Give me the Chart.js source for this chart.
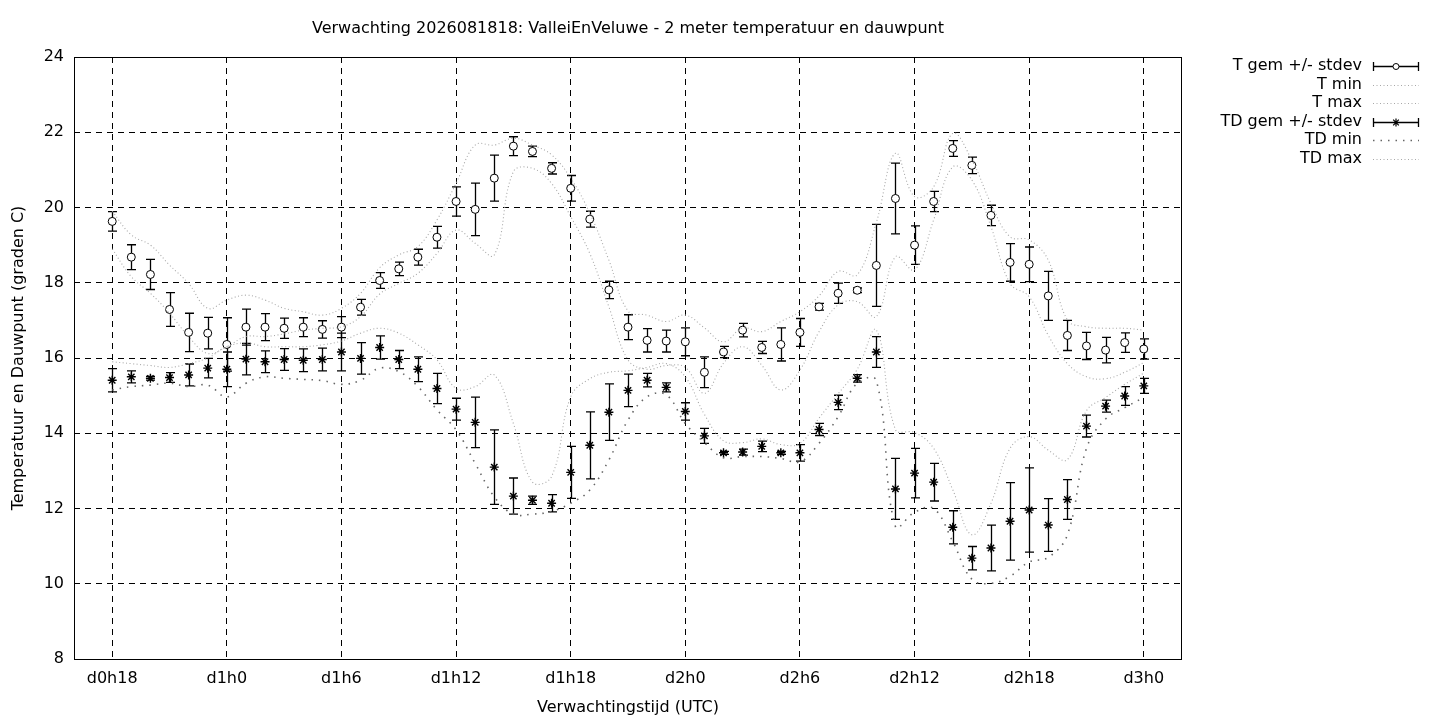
<!DOCTYPE html>
<html>
<head>
<meta charset="utf-8">
<script src="https://cdn.jsdelivr.net/npm/chart.js@4.4.1/dist/chart.umd.min.js"></script>
<style>
  html, body { margin: 0; padding: 0; background: #fff; }
  #wrap { width: 1440px; height: 720px; position: relative; }
  canvas { display: block; }
</style>
</head>
<body>
<div id="wrap"><canvas id="c" width="1440" height="720"></canvas></div>
<script>
// ---------- data ----------
const chartTitle = 'Verwachting 2026081818: ValleiEnVeluwe - 2 meter temperatuur en dauwpunt';
const xAxisTitle = 'Verwachtingstijd (UTC)';
const yAxisTitle = 'Temperatuur en Dauwpunt (graden C)';

const hours = [18,19,20,21,22,23,24,25,26,27,28,29,30,31,32,33,34,35,36,37,38,39,40,41,42,43,44,45,
  46,47,48,49,50,51,52,53,54,55,56,57,58,59,60,61,62,63,64,65,66,67,68,69,70,71,72];

const xTickHours  = [18, 24, 30, 36, 42, 48, 54, 60, 66, 72];
const xTickLabels = ['d0h18','d1h0','d1h6','d1h12','d1h18','d2h0','d2h6','d2h12','d2h18','d3h0'];
const yTicks = [8, 10, 12, 14, 16, 18, 20, 22, 24];

const tMean = [19.63,18.68,18.22,17.29,16.68,16.66,16.36,16.82,16.82,16.79,16.82,16.76,16.82,17.35,
  18.06,18.37,18.68,19.21,20.16,19.95,20.78,21.63,21.49,21.04,20.51,19.69,17.81,16.82,
  16.47,16.45,16.43,15.62,16.16,16.74,16.28,16.36,16.68,17.36,17.72,17.80,18.46,20.24,19.00,20.16,
  21.57,21.12,19.79,18.54,18.49,17.65,16.60,16.32,16.21,16.41,16.24];
const tSd = [0.26,0.33,0.40,0.45,0.51,0.42,0.71,0.48,0.36,0.27,0.25,0.23,0.28,0.21,
  0.21,0.18,0.21,0.29,0.39,0.70,0.61,0.25,0.14,0.15,0.34,0.21,0.23,0.33,
  0.31,0.29,0.37,0.41,0.15,0.18,0.16,0.44,0.37,0.09,0.27,0.06,1.09,0.94,0.51,0.27,
  0.21,0.22,0.27,0.50,0.46,0.65,0.40,0.36,0.34,0.26,0.27];
const tMin = [18.90,18.16,17.72,17.19,16.57,16.12,16.30,16.57,16.57,16.64,16.74,16.79,16.83,17.10,
  17.70,17.98,18.25,18.78,19.40,19.05,18.74,20.95,21.04,20.64,19.76,18.78,17.36,15.95,
  15.70,15.80,15.75,15.06,15.86,16.30,15.81,15.15,15.68,16.70,17.41,17.50,17.10,18.69,18.34,19.67,
  21.08,20.73,19.49,17.98,17.63,16.60,15.85,15.50,15.45,15.62,15.88];
const tMax = [19.90,19.27,19.00,18.47,17.98,17.32,17.54,17.67,17.54,17.32,17.23,17.14,17.32,17.72,
  18.40,18.74,18.96,19.67,20.64,21.66,21.66,21.84,21.66,21.40,20.78,19.85,18.60,17.25,
  17.14,16.97,17.14,16.80,16.43,16.80,16.70,16.97,17.23,17.65,18.30,18.21,19.60,21.44,20.29,20.55,
  21.97,21.26,20.11,19.22,19.14,18.60,17.01,16.83,16.79,16.79,16.74];

const tdMean = [15.41,15.50,15.46,15.48,15.55,15.73,15.70,15.97,15.90,15.96,15.94,15.96,16.16,15.99,
  16.28,15.96,15.70,15.19,14.64,14.29,13.10,12.33,12.22,12.14,12.96,13.68,14.56,15.14,
  15.41,15.22,14.58,13.93,13.48,13.50,13.65,13.48,13.48,14.10,14.82,15.46,16.16,12.52,12.94,12.70,
  11.50,10.68,10.95,11.66,11.96,11.56,12.24,14.19,14.72,14.99,15.26];
const tdSd = [0.31,0.16,0.05,0.13,0.29,0.26,0.46,0.42,0.29,0.29,0.30,0.30,0.50,0.42,
  0.31,0.24,0.33,0.40,0.29,0.67,0.99,0.48,0.11,0.23,0.69,0.89,0.75,0.43,
  0.18,0.12,0.23,0.20,0.04,0.08,0.14,0.04,0.22,0.16,0.19,0.10,0.41,0.81,0.66,0.50,
  0.44,0.31,0.61,1.03,1.12,0.70,0.53,0.29,0.16,0.25,0.20];
const tdMin = [15.15,15.24,15.28,15.33,15.24,15.28,14.97,15.33,15.50,15.46,15.43,15.40,15.30,15.41,
  15.73,15.64,15.24,14.62,14.09,13.20,12.31,11.85,11.85,11.92,12.14,12.49,13.29,14.35,
  14.97,15.02,14.26,13.75,13.35,13.38,13.38,13.33,13.24,13.73,14.44,15.33,15.40,11.52,11.90,12.00,
  11.12,10.12,10.01,10.20,10.58,10.70,11.30,13.60,14.38,14.68,14.95];
const tdMax = [15.90,15.85,15.80,15.75,15.85,16.00,16.30,16.40,16.30,16.30,16.30,16.35,16.45,16.66,
  16.79,16.66,16.35,15.95,15.19,15.24,15.55,14.26,12.70,12.85,14.97,15.45,15.62,15.66,
  15.75,15.85,15.50,14.50,13.80,13.75,13.85,13.70,13.73,14.40,15.05,15.70,16.74,14.10,14.02,13.60,
  12.50,11.30,12.14,13.60,13.91,13.55,13.30,14.60,14.95,15.30,15.60];

const legendLabels = ['T gem +/- stdev','T min','T max','TD gem +/- stdev','TD min','TD max'];

// ---------- styling ----------
const FONT = 'DejaVu Sans';
const FSIZE = 16;
const LIGHT = '#a8a8a8';
const DARK = '#666666';
const toXY = arr => arr.map((v, i) => ({ x: hours[i], y: v }));

const errorBars = {
  id: 'errorBars',
  beforeDatasetsDraw(chart) {
    const ctx = chart.ctx, xs = chart.scales.x, ys = chart.scales.y;
    ctx.save();
    ctx.strokeStyle = '#000';
    ctx.lineWidth = 1.3;
    const draw = (mean, sd) => {
      mean.forEach((m, i) => {
        const x = Math.round(xs.getPixelForValue(hours[i])) + 0.5;
        const y1 = ys.getPixelForValue(m + sd[i]);
        const y2 = ys.getPixelForValue(m - sd[i]);
        ctx.beginPath();
        ctx.moveTo(x, y1); ctx.lineTo(x, y2);
        ctx.moveTo(x - 4.5, y1); ctx.lineTo(x + 4.5, y1);
        ctx.moveTo(x - 4.5, y2); ctx.lineTo(x + 4.5, y2);
        ctx.stroke();
      });
    };
    draw(tMean, tSd);
    draw(tdMean, tdSd);
    ctx.restore();
  }
};

const frameAndLegend = {
  id: 'frameAndLegend',
  afterDraw(chart) {
    const ctx = chart.ctx, a = chart.chartArea;
    ctx.save();
    // frame
    ctx.strokeStyle = '#000';
    ctx.lineWidth = 1;
    ctx.setLineDash([]);
    ctx.strokeRect(Math.round(a.left) + 0.5, Math.round(a.top) + 0.5,
                   Math.round(a.right - a.left) - 1, Math.round(a.bottom - a.top));
    // title
    ctx.fillStyle = '#000';
    ctx.font = FSIZE + 'px "' + FONT + '"';
    ctx.textAlign = 'center';
    ctx.textBaseline = 'middle';
    ctx.fillText(chartTitle, (a.left + a.right) / 2, 29);
    // legend
    const rows = [66, 84.5, 103, 121.5, 140, 158.5];
    const tx = 1362, sx1 = 1373, sx2 = 1419, mx = 1396;
    ctx.textAlign = 'right';
    legendLabels.forEach((lab, i) => {
      const y = rows[i];
      ctx.fillStyle = '#000';
      ctx.fillText(lab, tx, y);
      const yy = Math.round(y) + 0.5;
      if (i === 0 || i === 3) {
        ctx.strokeStyle = '#000';
        ctx.lineWidth = 1.3;
        ctx.setLineDash([]);
        ctx.beginPath();
        ctx.moveTo(sx1, yy); ctx.lineTo(sx2, yy);
        ctx.moveTo(sx1 + 0.5, yy - 4.5); ctx.lineTo(sx1 + 0.5, yy + 4.5);
        ctx.moveTo(sx2 - 0.5, yy - 4.5); ctx.lineTo(sx2 - 0.5, yy + 4.5);
        ctx.stroke();
        if (i === 0) {
          ctx.beginPath();
          ctx.fillStyle = '#fff';
          ctx.lineWidth = 1;
          ctx.arc(mx, yy, 3, 0, Math.PI * 2);
          ctx.fill(); ctx.stroke();
        } else {
          ctx.lineWidth = 1.2;
          ctx.beginPath();
          const r = 4, d = r * 0.7071;
          ctx.moveTo(mx, yy - r); ctx.lineTo(mx, yy + r);
          ctx.moveTo(mx - r, yy); ctx.lineTo(mx + r, yy);
          ctx.moveTo(mx - d, yy - d); ctx.lineTo(mx + d, yy + d);
          ctx.moveTo(mx - d, yy + d); ctx.lineTo(mx + d, yy - d);
          ctx.stroke();
        }
      } else {
        ctx.beginPath();
        if (i === 4) { ctx.strokeStyle = DARK; ctx.lineWidth = 1.5; ctx.setLineDash([1.5, 6]); }
        else { ctx.strokeStyle = LIGHT; ctx.lineWidth = 1; ctx.setLineDash([1, 2.5]); }
        ctx.moveTo(sx1, yy); ctx.lineTo(sx2, yy);
        ctx.stroke();
      }
    });
    ctx.restore();
  }
};

const lineDs = (label, arr, color, width, dash) => ({
  label, data: toXY(arr), borderColor: color, borderWidth: width, borderDash: dash,
  pointRadius: 0, tension: 0.4, fill: false, showLine: true
});

new Chart(document.getElementById('c'), {
  type: 'line',
  data: {
    datasets: [
      lineDs('T min', tMin, LIGHT, 1.1, [1, 2.5]),
      lineDs('T max', tMax, LIGHT, 1.1, [1, 2.5]),
      lineDs('TD min', tdMin, DARK, 1.6, [1.5, 6]),
      lineDs('TD max', tdMax, LIGHT, 1.1, [1, 2.5]),
      {
        label: 'T gem +/- stdev', data: toXY(tMean), showLine: false,
        pointStyle: 'circle', pointRadius: 4, pointBackgroundColor: '#fff',
        pointBorderColor: '#000', pointBorderWidth: 1, borderColor: '#000'
      },
      {
        label: 'TD gem +/- stdev', data: toXY(tdMean), showLine: false,
        pointStyle: 'star', pointRadius: 4.5, pointBackgroundColor: '#000',
        pointBorderColor: '#000', pointBorderWidth: 1.4, borderColor: '#000'
      }
    ]
  },
  options: {
    responsive: false,
    animation: false,
    devicePixelRatio: 1,
    layout: { padding: { top: 57, right: 258, left: 0, bottom: 0 } },
    plugins: { legend: { display: false }, tooltip: { enabled: false }, title: { display: false } },
    scales: {
      x: {
        type: 'linear', min: 16, max: 74,
        afterBuildTicks: s => { s.ticks = xTickHours.map(v => ({ value: v })); },
        afterFit: s => { s.height = 61; },
        ticks: {
          autoSkip: false, maxRotation: 0, padding: 10, color: '#000',
          font: { family: FONT, size: FSIZE },
          callback: v => xTickLabels[xTickHours.indexOf(v)]
        },
        grid: { color: '#000', lineWidth: 1, drawTicks: false, tickLength: 0 },
        border: { display: false, dash: [6, 5] },
        title: { display: true, text: xAxisTitle, color: '#000',
                 font: { family: FONT, size: FSIZE }, padding: { top: 0, bottom: 3 } }
      },
      y: {
        min: 8, max: 24,
        afterBuildTicks: s => { s.ticks = yTicks.map(v => ({ value: v })); },
        afterFit: s => { s.width = 74; },
        ticks: { padding: 10, color: '#000', font: { family: FONT, size: FSIZE } },
        grid: { color: '#000', lineWidth: 1, drawTicks: false, tickLength: 0 },
        border: { display: false, dash: [6, 5] },
        title: { display: true, text: yAxisTitle, color: '#000',
                 font: { family: FONT, size: FSIZE }, padding: { top: 9, bottom: 0 } }
      }
    }
  },
  plugins: [errorBars, frameAndLegend]
});
</script>
</body>
</html>
